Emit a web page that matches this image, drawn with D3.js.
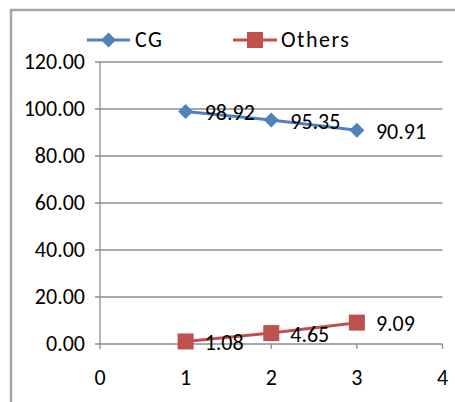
<!DOCTYPE html>
<html>
<head>
<meta charset="utf-8">
<script src="https://cdn.jsdelivr.net/npm/d3@7"></script>
<style>
  html, body { margin: 0; padding: 0; background: #fff; }
  svg { display: block; }
  text { font-family: Carlito, Calibri, "Liberation Sans", Arial, sans-serif; }
</style>
</head>
<body>
<script>
const xValues = [1, 2, 3];
const seriesNames = ["CG", "Others"];
const cgValues = [98.92, 95.35, 90.91];
const othersValues = [1.08, 4.65, 9.09];
const seriesColors = ["#4F81BD", "#C0504D"];
const yTicks = [0, 20, 40, 60, 80, 100, 120];
const xTicks = [0, 1, 2, 3, 4];

const W = 455, H = 402;
const FS = 22;
const svg = d3.select("body").append("svg").attr("width", W).attr("height", H);

// outer chart frame
svg.append("rect").attr("x", 11).attr("y", 10).attr("width", 470).attr("height", 420)
  .attr("fill", "#fff").attr("stroke", "#A6A6A6").attr("stroke-width", 2.5);

const x = d3.scaleLinear().domain([0, 4]).range([100, 442.5]);
const y = d3.scaleLinear().domain([0, 120]).range([344, 62]);

const gridColor = "#8C8C8C";

// gridlines
svg.append("g").selectAll("line").data(yTicks).join("line")
  .attr("x1", 95).attr("x2", 442.5)
  .attr("y1", d => y(d)).attr("y2", d => y(d))
  .attr("stroke", gridColor).attr("stroke-width", 1.3);

// y axis labels
svg.append("g").selectAll("text").data(yTicks).join("text")
  .attr("x", 85).attr("y", d => y(d)).attr("dy", "0.33em")
  .attr("text-anchor", "end").attr("font-size", FS).attr("fill", "#000")
  .text(d => d3.format(".2f")(d));

// y axis line
svg.append("line").attr("x1", x(0)).attr("x2", x(0)).attr("y1", y(120)).attr("y2", y(0))
  .attr("stroke", gridColor).attr("stroke-width", 1.3);

// x ticks
svg.append("g").selectAll("line").data(xTicks).join("line")
  .attr("x1", d => x(d)).attr("x2", d => x(d))
  .attr("y1", y(0)).attr("y2", y(0) + 5)
  .attr("stroke", gridColor).attr("stroke-width", 1.3);

svg.append("g").selectAll("text").data(xTicks).join("text")
  .attr("x", d => x(d)).attr("y", 378).attr("dy", "0.33em")
  .attr("text-anchor", "middle").attr("font-size", FS).attr("fill", "#000")
  .text(d => d);

const series = [cgValues, othersValues];
const line = d3.line().x((d, i) => x(xValues[i])).y(d => y(d));

series.forEach((vals, si) => {
  const color = seriesColors[si];
  svg.append("path").datum(vals).attr("d", line)
    .attr("fill", "none").attr("stroke", color).attr("stroke-width", 3);
  const g = svg.append("g");
  vals.forEach((v, i) => {
    const cx = x(xValues[i]), cy = y(v);
    if (si === 0) {
      g.append("path").attr("d", `M${cx},${cy-7.5}L${cx+7.5},${cy}L${cx},${cy+7.5}L${cx-7.5},${cy}Z`)
        .attr("fill", color);
    } else {
      g.append("rect").attr("x", cx - 8).attr("y", cy - 8).attr("width", 16).attr("height", 16)
        .attr("fill", color);
    }
    svg.append("text").attr("x", cx + 19).attr("y", cy + 1.5).attr("dy", "0.33em")
      .attr("font-size", FS).attr("fill", "#000")
      .text(d3.format(".2f")(v));
  });
});

// legend
const legendItems = [
  { name: seriesNames[0], x0: 87, x1: 130, tx: 135 },
  { name: seriesNames[1], x0: 233, x1: 277, tx: 281 }
];
legendItems.forEach((it, i) => {
  const ly = 40, color = seriesColors[i];
  svg.append("line").attr("x1", it.x0).attr("x2", it.x1).attr("y1", ly).attr("y2", ly)
    .attr("stroke", color).attr("stroke-width", 3);
  const cx = (it.x0 + it.x1) / 2;
  if (i === 0) {
    svg.append("path").attr("d", `M${cx},${ly-7.5}L${cx+7.5},${ly}L${cx},${ly+7.5}L${cx-7.5},${ly}Z`)
      .attr("fill", color);
  } else {
    svg.append("rect").attr("x", cx - 8).attr("y", ly - 8).attr("width", 16).attr("height", 16)
      .attr("fill", color);
  }
  svg.append("text").attr("x", it.tx).attr("y", ly).attr("dy", "0.33em")
    .attr("font-size", FS).attr("letter-spacing", 1.5).attr("fill", "#000").text(it.name);
});
</script>
</body>
</html>
